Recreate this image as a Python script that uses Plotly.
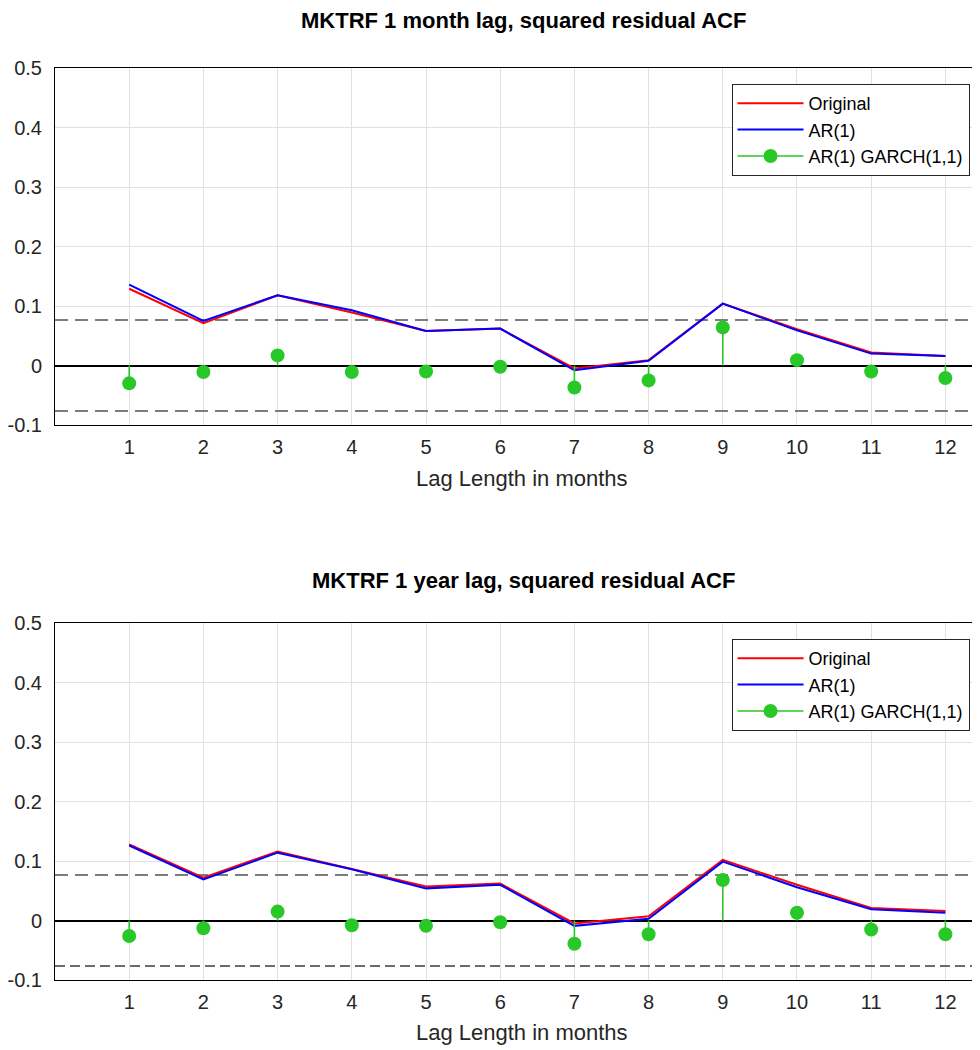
import plotly.graph_objects as go

lags = [1, 2, 3, 4, 5, 6, 7, 8, 9, 10, 11, 12]
tick_labels = [str(v) for v in lags]

# Top panel: 1 month lag
m_original = [0.129, 0.071, 0.118, 0.089, 0.058, 0.062, -0.005, 0.009, 0.104, 0.061, 0.022, 0.016]
m_ar1 = [0.136, 0.075, 0.118, 0.093, 0.058, 0.062, -0.008, 0.008, 0.104, 0.059, 0.020, 0.016]
m_garch = [-0.030, -0.011, 0.017, -0.011, -0.010, -0.002, -0.037, -0.025, 0.064, 0.009, -0.010, -0.021]

# Bottom panel: 1 year lag
y_original = [0.128, 0.072, 0.116, 0.087, 0.057, 0.062, -0.005, 0.007, 0.102, 0.060, 0.021, 0.016]
y_ar1 = [0.126, 0.069, 0.114, 0.086, 0.054, 0.060, -0.009, 0.003, 0.099, 0.056, 0.019, 0.013]
y_garch = [-0.026, -0.013, 0.015, -0.008, -0.009, -0.003, -0.039, -0.023, 0.068, 0.013, -0.015, -0.023]

conf_bound = 0.0765
titles = ["MKTRF 1 month lag, squared residual ACF", "MKTRF 1 year lag, squared residual ACF"]
xlabel = "Lag Length in months"

# The page body has an 8px margin, so the figure is drawn 8px in from the top-left.
OFF = 8
W, H = 980 - OFF, 1050 - OFF
L, R, T, B = 54 - OFF, 0, 68 - OFF, 1050 - 980
PH = H - T - B
PW = W - L - R

def py2paper(page_py):
    return 1 - (page_py - OFF - T) / PH

def px2paper(page_px):
    return (page_px - OFF - L) / PW

RED = "rgb(255,0,0)"
BLUE = "rgb(0,0,255)"
GREEN = "rgb(40,200,40)"
FONT = "Liberation Sans, Arial, Helvetica, sans-serif"

fig = go.Figure()

panels = [
    ("x", "y", "legend", m_original, m_ar1, m_garch,
     [("rgb(125,125,125)", 2, "13px,7px"), ("rgb(125,125,125)", 2, "13px,7px")]),
    ("x2", "y2", "legend2", y_original, y_ar1, y_garch,
     [("rgb(125,125,125)", 2, "13px,7px"), ("rgb(60,60,60)", 1.4, "10px,5px")]),
]

XMAX = (980 - 54) / 74.36

for xa, ya, lg, orig, ar, ga, dstyles in panels:
    for sign, (col, wd, dash) in zip([1, -1], dstyles):
        fig.add_trace(go.Scatter(x=[0, XMAX], y=[sign * conf_bound, sign * conf_bound], mode="lines",
                                 line=dict(color=col, width=wd, dash=dash),
                                 showlegend=False, hoverinfo="skip", xaxis=xa, yaxis=ya))
    fig.add_trace(go.Scatter(x=lags, y=orig, mode="lines", name="Original",
                             line=dict(color=RED, width=2), legend=lg, xaxis=xa, yaxis=ya))
    fig.add_trace(go.Scatter(x=lags, y=ar, mode="lines", name="AR(1)",
                             line=dict(color=BLUE, width=2), legend=lg, xaxis=xa, yaxis=ya))
    sx, sy, sc = [], [], []
    for lag, v in zip(lags, ga):
        sx += [lag, lag, None]
        sy += [v, 0, None]
        sc += [GREEN, "rgba(0,0,0,0)", "rgba(0,0,0,0)"]
    fig.add_trace(go.Scatter(x=sx, y=sy, mode="lines+markers", name="AR(1) GARCH(1,1)",
                             line=dict(color=GREEN, width=1.6),
                             marker=dict(color=sc, size=14, opacity=1, line=dict(width=0)),
                             legend=lg, xaxis=xa, yaxis=ya))

top_dom = [py2paper(425), 1.0]
bot_dom = [py2paper(980), py2paper(623)]

axis_common = dict(showgrid=True, gridcolor="rgb(225,225,225)", gridwidth=1,
                   showline=True, linecolor="black", linewidth=1, mirror=True,
                   ticks="", tickfont=dict(family=FONT, size=20, color="rgb(38,38,38)"))

xaxis_common = dict(axis_common, range=[0, XMAX], tickmode="array", tickvals=lags,
                    ticktext=tick_labels, zeroline=False, ticklabelstandoff=4)
yaxis_common = dict(axis_common, range=[-0.1, 0.5], tickmode="array",
                    tickvals=[-0.1, 0, 0.1, 0.2, 0.3, 0.4, 0.5],
                    ticktext=["-0.1", "0", "0.1", "0.2", "0.3", "0.4", "0.5"],
                    zeroline=True, zerolinecolor="black", zerolinewidth=1.6,
                    ticklabelstandoff=8)

legend_common = dict(xanchor="left", yanchor="top", bgcolor="white",
                     bordercolor="rgb(38,38,38)", borderwidth=1,
                     font=dict(family=FONT, size=18, color="black"),
                     itemsizing="trace", itemwidth=66, tracegroupgap=0)

fig.update_layout(
    width=W, height=H,
    margin=dict(l=L, r=R, t=T, b=B, pad=0),
    paper_bgcolor="white", plot_bgcolor="white",
    font=dict(family=FONT, color="rgb(38,38,38)"),
    xaxis=dict(xaxis_common, domain=[0, 1], anchor="y"),
    yaxis=dict(yaxis_common, domain=top_dom, anchor="x"),
    xaxis2=dict(xaxis_common, domain=[0, 1], anchor="y2"),
    yaxis2=dict(yaxis_common, domain=bot_dom, anchor="x2"),
    legend=dict(legend_common, x=px2paper(732), y=py2paper(84)),
    legend2=dict(legend_common, x=px2paper(732), y=py2paper(639)),
    showlegend=True,
)

ann = []
for ttl, py in zip(titles, [20.5, 580.5]):
    ann.append(dict(text="<b>" + ttl + "</b>", x=px2paper(524), y=py2paper(py),
                    xref="paper", yref="paper", xanchor="center", yanchor="middle",
                    showarrow=False, font=dict(family=FONT, size=22, color="black")))
for py in [478, 1032]:
    ann.append(dict(text=xlabel, x=px2paper(522), y=py2paper(py),
                    xref="paper", yref="paper", xanchor="center", yanchor="middle",
                    showarrow=False, font=dict(family=FONT, size=22, color="rgb(38,38,38)")))
fig.update_layout(annotations=ann)

fig.write_html("out.html")
